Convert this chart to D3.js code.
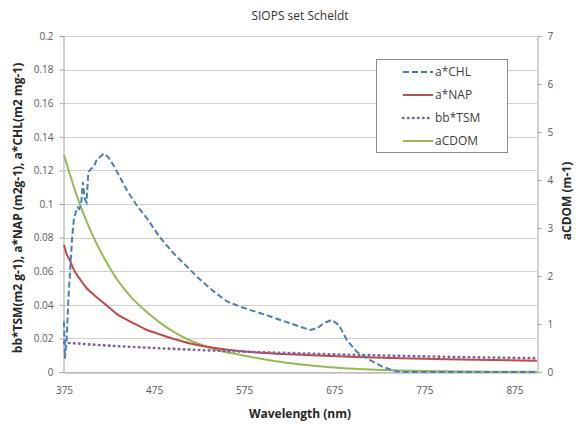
<!DOCTYPE html>
<html>
<head>
<meta charset="utf-8">
<script src="https://cdn.jsdelivr.net/npm/d3@7"></script>
<style>
	body { margin: 0; background: #fff; }
	text { font-family: "Open Sans", "Liberation Sans", sans-serif; }
</style>
</head>
<body>
<div class="chart"></div>
<script>
// wavelengths (nm) and values
var chlWave = [375, 376, 378, 380, 382, 384, 386, 388, 390, 392, 394, 396, 398, 400, 402, 405, 408, 411, 415, 419, 424, 430, 437, 445, 456, 467, 481, 496, 511, 526, 541, 556, 570, 581, 593, 604, 626, 648, 656, 663, 672, 680, 689, 700, 715, 729, 744, 760, 800, 850, 900];
var chlVals = [0.030, 0.008, 0.020, 0.045, 0.062, 0.080, 0.091, 0.095, 0.098, 0.097, 0.100, 0.113, 0.103, 0.101, 0.119, 0.121, 0.122, 0.126, 0.128, 0.130, 0.128, 0.123, 0.116, 0.108, 0.099, 0.0915, 0.0805, 0.071, 0.063, 0.055, 0.048, 0.042, 0.039, 0.037, 0.035, 0.033, 0.029, 0.025, 0.026, 0.029, 0.031, 0.028, 0.019, 0.012, 0.007, 0.003, 0.0003, 0, 0, 0, 0];

var napWave = [375, 378, 381, 385, 389, 393, 400, 408, 417, 426, 435, 445, 456, 467, 478, 489, 503, 518, 531, 545, 570, 593, 625, 650, 700, 750, 800, 850, 900];
var napVals = [0.0756, 0.070, 0.067, 0.062, 0.058, 0.055, 0.050, 0.046, 0.042, 0.038, 0.034, 0.031, 0.028, 0.025, 0.023, 0.021, 0.0188, 0.0167, 0.0153, 0.0141, 0.0125, 0.0115, 0.0106, 0.0100, 0.0090, 0.0082, 0.0076, 0.0071, 0.0067];

var tsmWave = [375, 425, 475, 525, 575, 625, 675, 725, 775, 825, 875, 900];
var tsmVals = [0.0175, 0.0157, 0.0143, 0.0131, 0.0121, 0.0113, 0.0105, 0.0099, 0.0093, 0.0088, 0.0084, 0.0082];

var cdomWave = [375, 390, 405, 420, 435, 450, 465, 480, 500, 520, 545, 570, 595, 620, 645, 670, 700, 730, 760, 800, 850, 900];
var cdomVals = [4.52, 3.63, 2.92, 2.36, 1.90, 1.55, 1.28, 1.05, 0.80, 0.62, 0.46, 0.36, 0.27, 0.20, 0.145, 0.10, 0.065, 0.04, 0.025, 0.014, 0.007, 0.003];

var xTicks = [375, 475, 575, 675, 775, 875];
var leftTicks = [0, 0.02, 0.04, 0.06, 0.08, 0.1, 0.12, 0.14, 0.16, 0.18, 0.2];
var rightTicks = [0, 1, 2, 3, 4, 5, 6, 7];

var legendNames = ["a*CHL", "a*NAP", "bb*TSM", "aCDOM"];
var colors = ["#4a7ebb", "#be4b48", "#7f5fa8", "#98b954"];
var dashes = ["6,3", null, "0.5,4.5", null];

var width = 576,
	height = 424,
	plot = {left: 64, right: 537, top: 36, bottom: 372};

var svg = d3.select(".chart").append("svg")
	.attr("width", width)
	.attr("height", height);

// scales
var x = d3.scaleLinear().domain([375, 900]).range([plot.left, plot.right]);
var yL = d3.scaleLinear().domain([0, 0.2]).range([plot.bottom, plot.top]);
var yR = d3.scaleLinear().domain([0, 7]).range([plot.bottom, plot.top]);

// gridlines
svg.append("g")
	.selectAll("line")
	.data(leftTicks)
	.enter().append("line")
	.attr("x1", plot.left)
	.attr("x2", plot.right)
	.attr("y1", function(d) { return Math.round(yL(d)) + 0.5; })
	.attr("y2", function(d) { return Math.round(yL(d)) + 0.5; })
	.attr("stroke", "#d0d0d0");

// axes
var leftAxis = svg.append("g")
	.attr("transform", "translate(" + (plot.left - 0.5) + ",0)")
	.call(d3.axisLeft(yL).tickValues(leftTicks).tickSize(4).tickPadding(6)
		.tickFormat(function(d) { return d === 0 ? "0" : d3.format("~g")(d); }));

var rightAxis = svg.append("g")
	.attr("transform", "translate(" + (plot.right + 0.5) + ",0)")
	.call(d3.axisRight(yR).tickValues(rightTicks).tickSize(4).tickPadding(6)
		.tickFormat(d3.format("d")));

var bottomAxis = svg.append("g")
	.attr("transform", "translate(0," + (plot.bottom + 0.5) + ")")
	.call(d3.axisBottom(x).tickValues(xTicks).tickSize(0).tickPadding(14));

[leftAxis, rightAxis, bottomAxis].forEach(function(a) {
	a.select(".domain").attr("stroke", "#a6a6a6");
	a.selectAll(".tick line").attr("stroke", "#a6a6a6");
	a.selectAll("text")
		.attr("fill", "#595959")
		.style("font-size", "10px")
		.style("font-family", "'Open Sans', sans-serif");
});

// series lines
var series = [
	{wave: chlWave, vals: chlVals, y: yL, curve: d3.curveLinear},
	{wave: napWave, vals: napVals, y: yL, curve: d3.curveMonotoneX},
	{wave: tsmWave, vals: tsmVals, y: yL, curve: d3.curveMonotoneX},
	{wave: cdomWave, vals: cdomVals, y: yR, curve: d3.curveMonotoneX}
];

var drawOrder = [3, 1, 2, 0];
drawOrder.forEach(function(i) {
	var s = series[i];
	var line = d3.line()
		.x(function(d) { return x(d); })
		.y(function(d, j) { return s.y(s.vals[j]); })
		.curve(s.curve);
	svg.append("path")
		.attr("d", line(s.wave))
		.attr("fill", "none")
		.attr("stroke", colors[i])
		.attr("stroke-width", i == 2 ? 2.6 : 2)
		.attr("stroke-dasharray", dashes[i])
		.attr("stroke-linecap", i == 2 ? "round" : "butt");
});

// legend
var legend = svg.append("g");
legend.append("rect")
	.attr("x", 376.5)
	.attr("y", 59.5)
	.attr("width", 131)
	.attr("height", 93)
	.attr("fill", "#fff")
	.attr("stroke", "#8c8c8c");

legendNames.forEach(function(name, i) {
	var ly = 72 + i * 23;
	legend.append("line")
		.attr("x1", 403)
		.attr("x2", 433)
		.attr("y1", ly)
		.attr("y2", ly)
		.attr("stroke", colors[i])
		.attr("stroke-width", i == 2 ? 2.6 : 2)
		.attr("stroke-dasharray", dashes[i])
		.attr("stroke-linecap", i == 2 ? "round" : "butt");
	legend.append("text")
		.attr("x", 435)
		.attr("y", ly + 4)
		.attr("fill", "#404040")
		.style("font-size", "12px")
		.text(name);
});

// titles
svg.append("text")
	.attr("x", 300)
	.attr("y", 20)
	.attr("text-anchor", "middle")
	.attr("fill", "#333")
	.style("font-size", "12px")
	.text("SIOPS set Scheldt");

svg.append("text")
	.attr("x", 300)
	.attr("y", 418)
	.attr("text-anchor", "middle")
	.attr("fill", "#262626")
	.style("font-size", "12px")
	.style("font-weight", "bold")
	.text("Wavelength (nm)");

svg.append("text")
	.attr("transform", "translate(22,208) rotate(-90)")
	.attr("text-anchor", "middle")
	.attr("fill", "#262626")
	.style("font-size", "12px")
	.style("font-weight", "bold")
	.text("bb*TSM(m2 g-1), a*NAP (m2g-1), a*CHL(m2 mg-1)");

svg.append("text")
	.attr("transform", "translate(571,201) rotate(-90)")
	.attr("text-anchor", "middle")
	.attr("fill", "#262626")
	.style("font-size", "12px")
	.style("font-weight", "bold")
	.text("aCDOM (m-1)");
</script>
</body>
</html>
